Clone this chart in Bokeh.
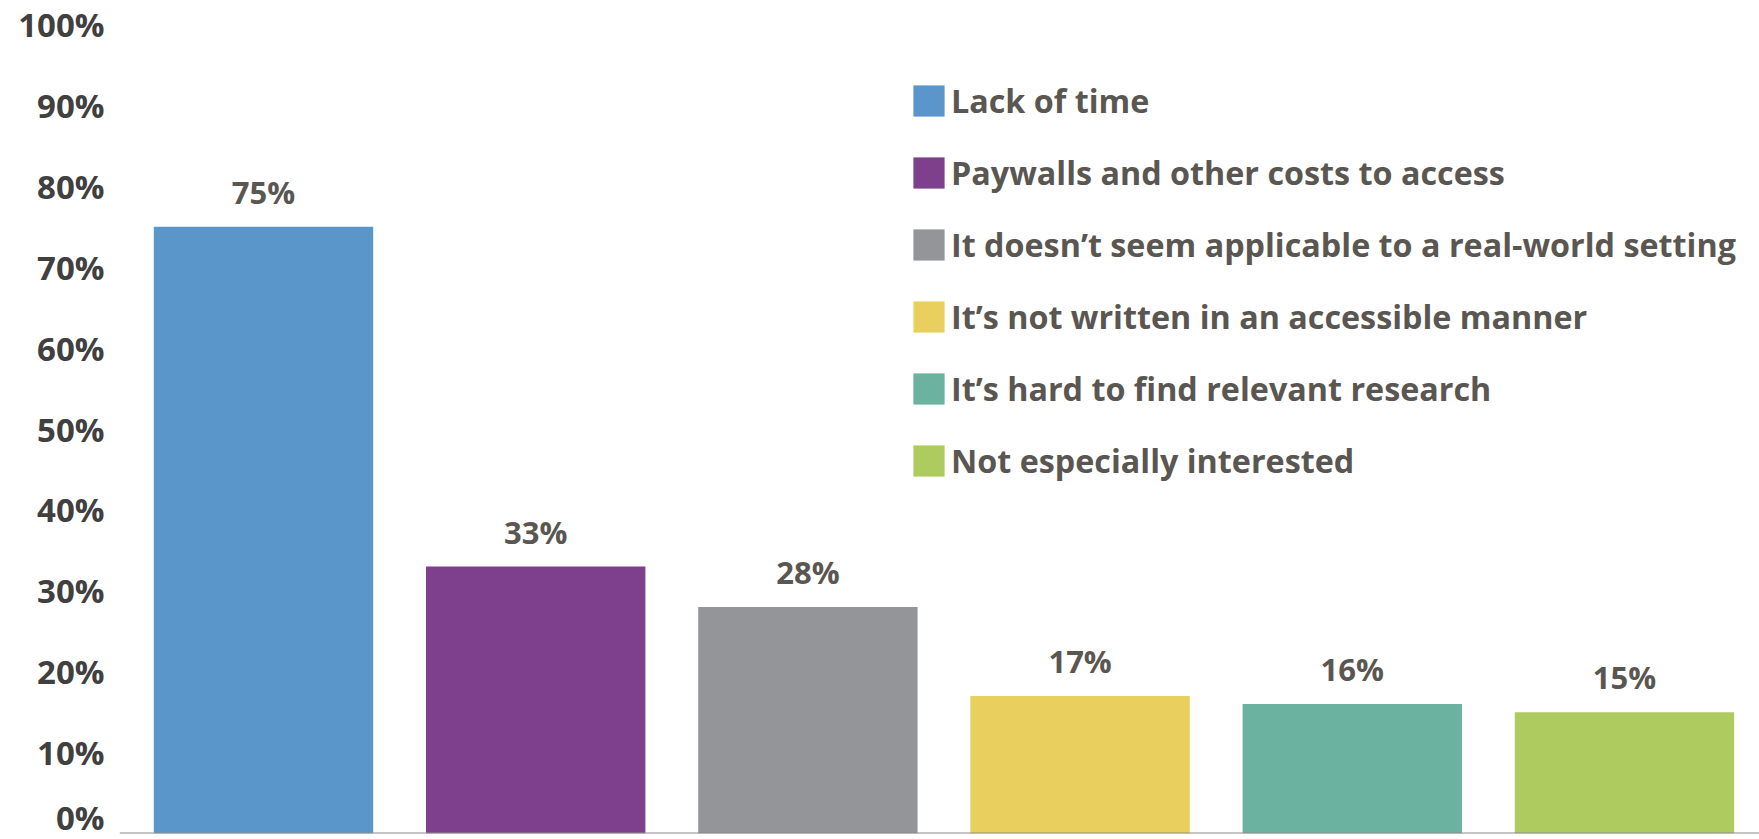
from bokeh.plotting import figure
from bokeh.models import ColumnDataSource, Range1d, FixedTicker, Span, Legend, LegendItem
from bokeh.core.properties import value
from bokeh.embed import file_html
from bokeh.resources import INLINE

categories = [
    "Lack of time",
    "Paywalls and other costs to access",
    "It doesn\u2019t seem applicable to a real-world setting",
    "It\u2019s not written in an accessible manner",
    "It\u2019s hard to find relevant research",
    "Not especially interested",
]
values = [75, 33, 28, 17, 16, 15]
value_labels = ["75%", "33%", "28%", "17%", "16%", "15%"]
colors = ["#5b96ca", "#7e3f8d", "#939598", "#e9d05e", "#6bb3a0", "#aecb60"]
y_ticks = [0, 10, 20, 30, 40, 50, 60, 70, 80, 90, 100]
y_tick_labels = ["0%", "10%", "20%", "30%", "40%", "50%", "60%", "70%", "80%", "90%", "100%"]

src = ColumnDataSource(dict(
    x=list(range(len(categories))),
    top=values,
    vlabel=value_labels,
    color=colors,
    cat=categories,
))

p = figure(width=1759, height=839, output_backend="svg", toolbar_location=None,
           x_range=Range1d(-0.529, 5.496), y_range=Range1d(0, 100),
           min_border_left=119, min_border_right=0, min_border_top=24, min_border_bottom=6)
p.outline_line_color = None
p.grid.visible = False
p.xaxis.visible = False
p.background_fill_color = "white"
p.border_fill_color = "white"

yax = p.yaxis[0]
yax.ticker = FixedTicker(ticks=y_ticks)
yax.major_label_overrides = {t: l for t, l in zip(y_ticks, y_tick_labels)}
yax.axis_line_color = None
yax.major_tick_line_color = None
yax.minor_tick_line_color = None
yax.major_tick_in = 0
yax.major_tick_out = 0
yax.major_label_standoff = 15
yax.major_label_text_font = "Open Sans"
yax.major_label_text_font_style = "bold"
yax.major_label_text_font_size = "33px"
yax.major_label_text_color = "#404040"

r = p.vbar(x="x", top="top", width=0.806, source=src, fill_color="color", line_color=None)

p.text(x="x", y="top", text="vlabel", source=src, text_align="center", text_baseline="middle",
       y_offset=-35, text_font=value("Open Sans"), text_font_style="bold",
       text_font_size="31px", text_color="#5a5651")

p.add_layout(Span(location=0, dimension="width", line_color="#8c8c8c", line_width=2))

items = [LegendItem(label=c, renderers=[r], index=i) for i, c in enumerate(categories)]
legend = Legend(items=items, location=(790, 351), orientation="vertical",
                glyph_width=39, glyph_height=39, label_standoff=3, spacing=28,
                padding=0, margin=0, border_line_color=None, background_fill_alpha=0,
                label_text_font="Open Sans", label_text_font_style="bold",
                label_text_font_size="32.3px", label_text_color="#5a5651")
p.add_layout(legend, "center")

open("out.html", "w").write(file_html(p, INLINE))
